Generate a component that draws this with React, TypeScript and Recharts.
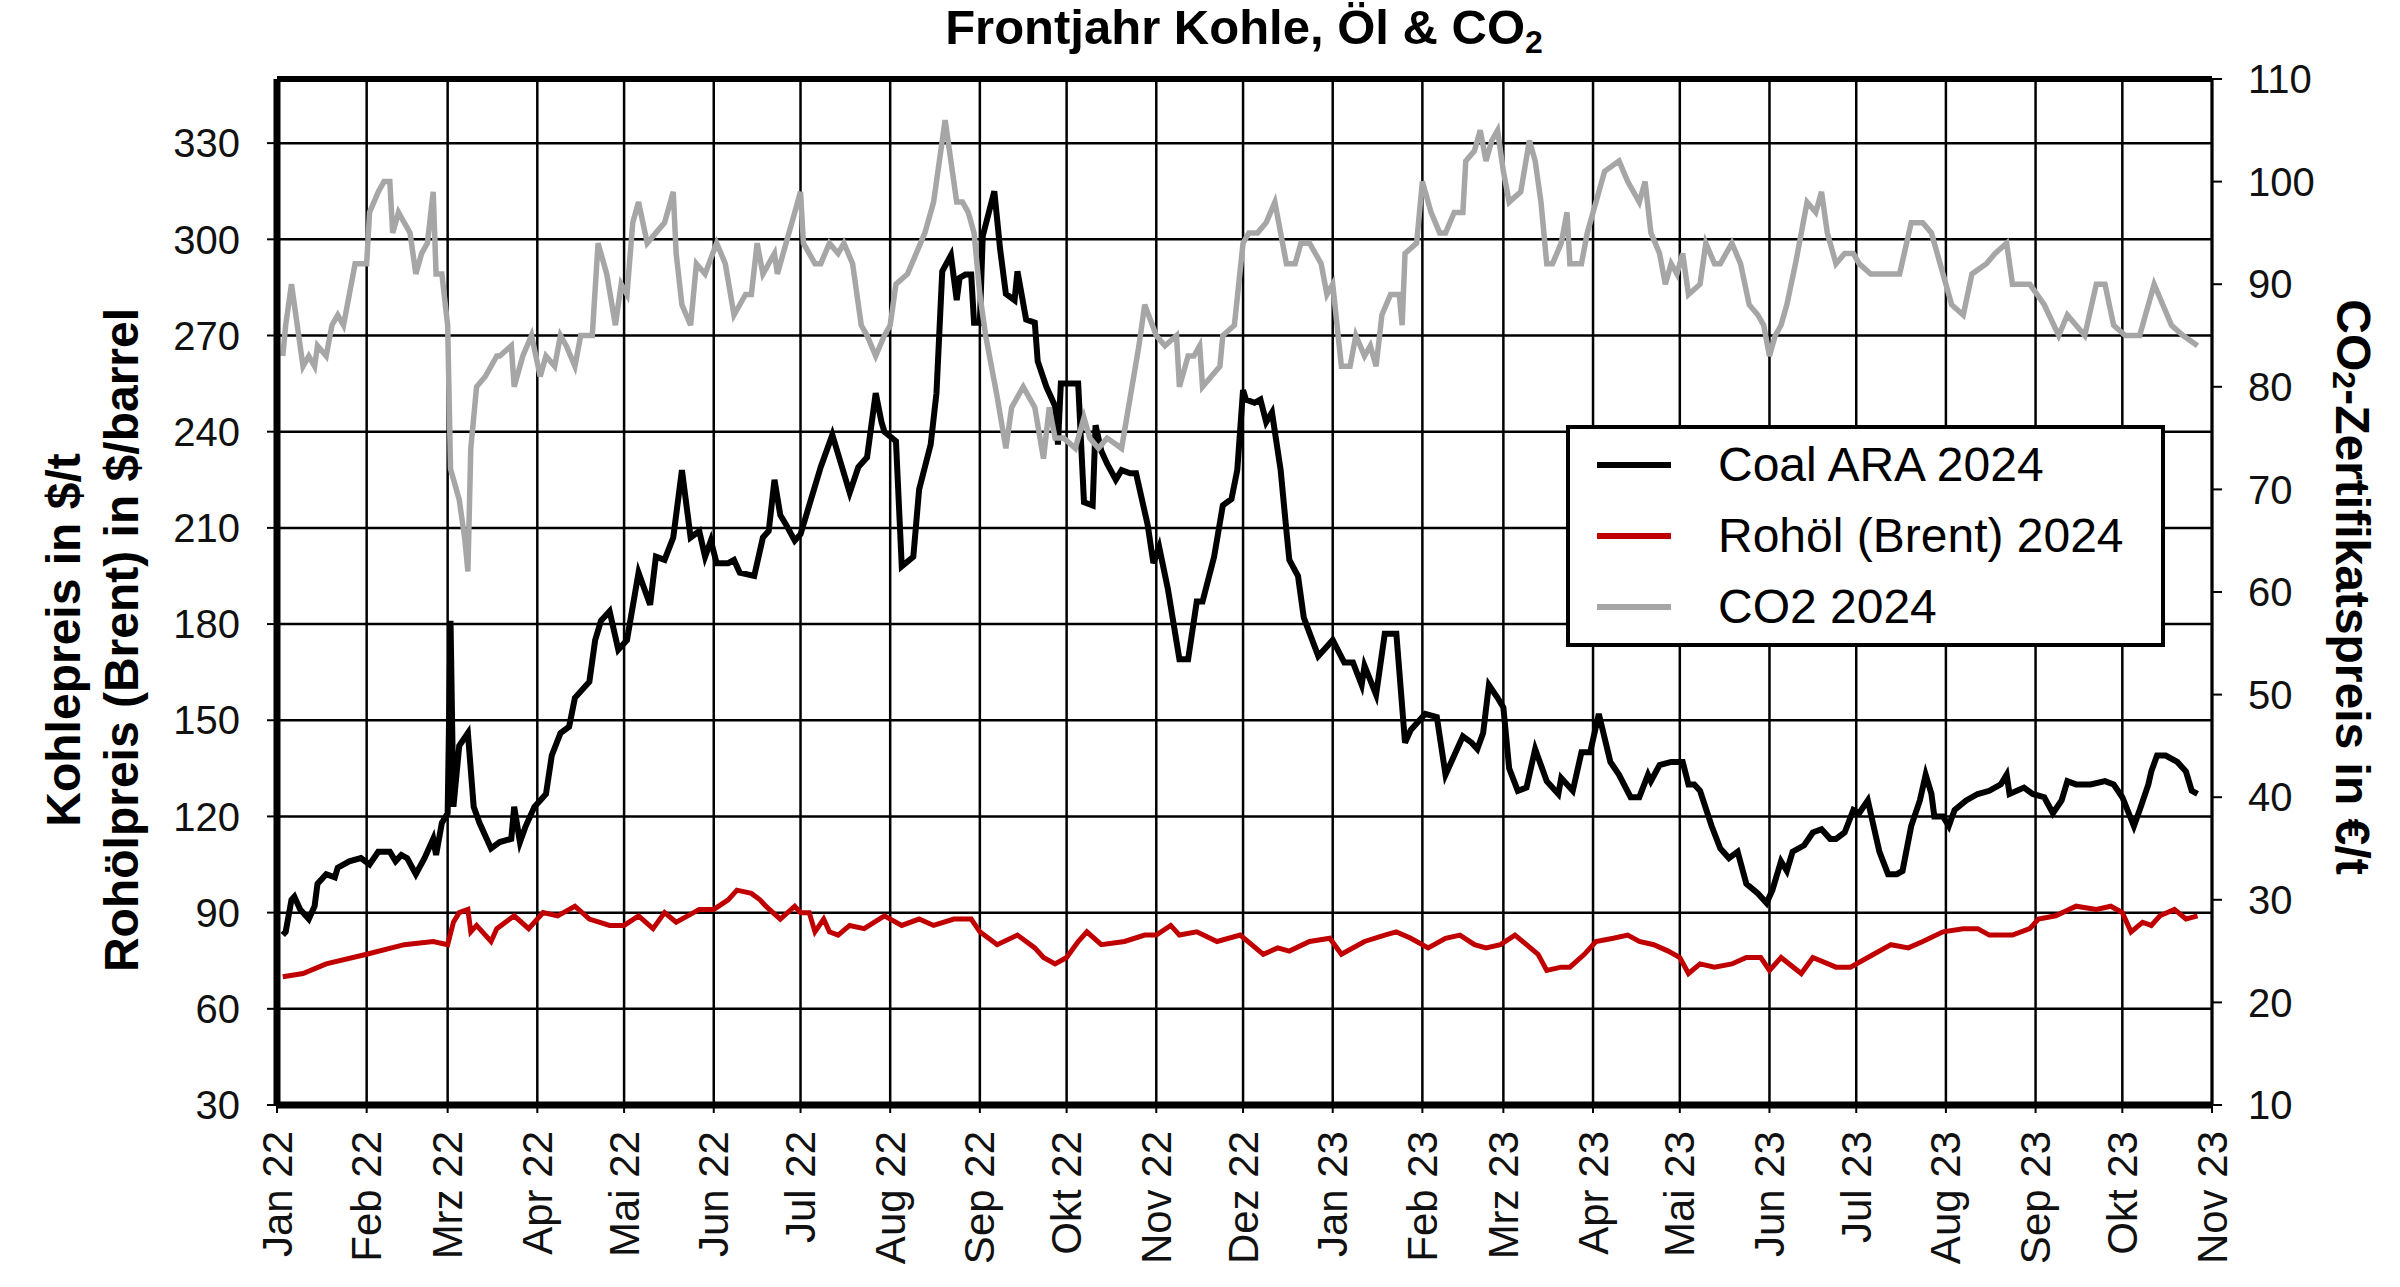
import React from "react";
import {
  CartesianGrid,
  Legend,
  Line,
  LineChart,
  ReferenceLine,
  XAxis,
  YAxis,
} from "recharts";

const FONT = "'Liberation Sans', Arial, sans-serif";

// x axis: days since 1 Jan 2022, ticks at month starts
const monthTicks = [0, 31, 59, 90, 120, 151, 181, 212, 243, 273, 304, 334, 365, 396, 424, 455, 485, 516, 546, 577, 608, 638, 669];
const monthLabels = [
  "Jan 22", "Feb 22", "Mrz 22", "Apr 22", "Mai 22", "Jun 22", "Jul 22", "Aug 22", "Sep 22", "Okt 22", "Nov 22", "Dez 22",
  "Jan 23", "Feb 23", "Mrz 23", "Apr 23", "Mai 23", "Jun 23", "Jul 23", "Aug 23", "Sep 23", "Okt 23", "Nov 23",
];
const leftTicks = [30, 60, 90, 120, 150, 180, 210, 240, 270, 300, 330];
const rightTicks = [10, 20, 30, 40, 50, 60, 70, 80, 90, 100, 110];
const seriesNames = ["Coal ARA 2024", "Rohöl (Brent) 2024", "CO2 2024"];

// Coal ARA 2024 ($/t)
const coalDays = [
  2, 3, 5, 6, 8, 11, 13, 14, 17, 20,
  21, 25, 29, 32, 35, 39, 41, 43, 45, 48,
  51, 54, 55, 57, 59, 60, 61, 63, 66, 68,
  70, 74, 77, 81, 82, 84, 86, 89, 91, 93,
  95, 98, 101, 103, 108, 110, 112, 115, 118, 121,
  125, 129, 131, 134, 137, 140, 143, 146, 148, 150,
  152, 156, 158, 160, 165, 168, 170, 172, 174, 176,
  179, 181, 184, 188, 192, 195, 198, 201, 204, 207,
  209, 210, 214, 216, 220, 222, 226, 228, 230, 233,
  235, 236, 238, 240, 241, 243, 244, 248, 250, 252,
  255, 256, 259, 262, 263, 266, 269, 270, 271, 275,
  277, 279, 282, 283, 285, 287, 290, 292, 295, 297,
  301, 303, 305, 308, 312, 315, 318, 320, 324, 327,
  330, 332, 334, 335, 338, 340, 342, 344, 347, 349,
  350, 353, 355, 360, 362, 365, 369, 372, 375, 376,
  380, 383, 387, 390, 392, 397, 401, 404, 407, 410,
  413, 415, 417, 419, 422, 424, 426, 429, 432, 435,
  439, 443, 444, 448, 451, 454, 457, 461, 464, 468,
  471, 474, 475, 478, 482, 486, 488, 490, 492, 496,
  499, 502, 505, 508, 512, 515, 517, 520, 522, 524,
  528, 531, 534, 537, 539, 542, 545, 547, 550, 552,
  554, 557, 560, 562, 565, 568, 570, 572, 573, 576,
  578, 580, 584, 588, 592, 596, 598, 599, 604, 607,
  611, 614, 617, 619, 622, 627, 632, 635, 638, 642,
  644, 647, 648, 650, 653, 657, 660, 662, 664,
];
const coalValues = [
  83, 84, 94, 95, 91, 88, 92, 99, 102, 101,
  104, 106, 107, 105, 109, 109, 106, 108, 107, 102,
  107, 113, 108, 118, 121, 181, 123, 142, 146, 123,
  118, 110, 112, 113, 123, 112, 117, 123, 125, 127,
  139, 146, 148, 157, 162, 175, 181, 184, 172, 175,
  196, 186, 201, 200, 207, 228, 207, 209, 201, 206,
  199, 199, 200, 196, 195, 207, 209, 225, 214, 211,
  206, 208, 217, 229, 239, 230, 221, 229, 232, 252,
  243, 240, 237, 198, 201, 222, 236, 252, 290, 295,
  281, 288, 289, 289, 274, 274, 301, 315, 297, 283,
  281, 290, 275, 274, 262, 254, 248, 236, 255, 255,
  255, 218, 217, 242, 234, 230, 225, 228, 227, 227,
  211, 199, 204, 191, 169, 169, 187, 187, 201, 217,
  219, 228, 253, 250, 249, 250, 243, 246, 228, 209,
  200, 195, 182, 170, 172, 175, 168, 168, 161, 167,
  158, 177, 177, 143, 147, 152, 151, 133, 139, 145,
  143, 141, 146, 161, 157, 154, 135, 128, 129, 141,
  131, 127, 132, 128, 140, 140, 152, 137, 133, 126,
  126, 133, 131, 136, 137, 137, 130, 130, 128, 117,
  110, 107, 109, 99, 96, 93, 97, 106, 103, 109,
  111, 115, 116, 113, 113, 115, 122, 121, 125, 117,
  109, 102, 102, 103, 117, 125, 133, 127, 120, 120,
  117, 122, 125, 127, 128, 130, 133, 127, 129, 127,
  126, 121, 125, 131, 130, 130, 131, 130, 126, 117,
  122, 130, 134, 139, 139, 137, 134, 128, 127,
];

// Rohöl (Brent) 2024 ($/barrel)
const oilDays = [
  2, 9, 17, 31, 44, 54, 59, 61, 63, 66,
  67, 69, 74, 76, 82, 87, 92, 97, 103, 108,
  115, 120, 125, 130, 134, 138, 142, 146, 151, 156,
  159, 164, 167, 169, 174, 179, 181, 184, 186, 189,
  191, 194, 198, 203, 210, 216, 222, 227, 234, 240,
  243, 249, 256, 262, 265, 269, 273, 277, 280, 285,
  293, 300, 304, 309, 312, 318, 325, 333, 341, 346,
  350, 357, 364, 368, 376, 383, 387, 392, 398, 404,
  409, 414, 418, 423, 428, 432, 436, 439, 444, 447,
  452, 456, 462, 467, 471, 476, 481, 485, 488, 492,
  497, 503, 508, 513, 516, 520, 527, 531, 539, 544,
  550, 558, 564, 569, 576, 583, 588, 592, 600, 606,
  609, 615, 622, 629, 634, 638, 641, 645, 648, 651,
  656, 660, 664,
];
const oilValues = [
  70, 71, 74, 77, 80, 81, 80, 87, 90, 91,
  84, 86, 81, 85, 89, 85, 90, 89, 92, 88,
  86, 86, 89, 85, 90, 87, 89, 91, 91, 94,
  97, 96, 94, 92, 88, 92, 90, 90, 84, 88,
  84, 83, 86, 85, 89, 86, 88, 86, 88, 88,
  84, 80, 83, 79, 76, 74, 76, 81, 84, 80,
  81, 83, 83, 86, 83, 84, 81, 83, 77, 79,
  78, 81, 82, 77, 81, 83, 84, 82, 79, 82,
  83, 80, 79, 80, 83, 80, 77, 72, 73, 73,
  77, 81, 82, 83, 81, 80, 78, 76, 71, 74,
  73, 74, 76, 76, 72, 76, 71, 76, 73, 73,
  76, 80, 79, 81, 84, 85, 85, 83, 83, 85,
  88, 89, 92, 91, 92, 90, 84, 87, 86, 89,
  91, 88, 89,
];

// CO2 2024 (€/t, right axis)
const co2Days = [
  2, 3, 5, 6, 9, 11, 13, 14, 17, 19,
  21, 23, 27, 31, 32, 35, 37, 39, 40, 42,
  46, 48, 50, 52, 54, 55, 57, 59, 60, 63,
  65, 66, 67, 69, 72, 76, 77, 81, 82, 85,
  88, 91, 93, 96, 98, 100, 103, 105, 109, 111,
  114, 117, 119, 121, 123, 125, 128, 131, 134, 137,
  138, 140, 143, 145, 148, 152, 155, 158, 162, 164,
  166, 168, 172, 173, 176, 179, 181, 182, 186, 188,
  191, 194, 196, 199, 202, 204, 207, 210, 212, 214,
  218, 221, 224, 227, 229, 231, 233, 235, 237, 239,
  241, 243, 245, 249, 252, 254, 258, 262, 265, 267,
  269, 272, 276, 279, 281, 284, 287, 292, 295, 298,
  300, 304, 307, 311, 312, 315, 317, 319, 320, 323,
  326, 327, 331, 334, 336, 339, 342, 345, 347, 349,
  352, 354, 357, 361, 363, 365, 368, 371, 373, 376,
  378, 380, 382, 385, 388, 389, 390, 394, 396, 399,
  402, 404, 407, 410, 411, 414, 416, 418, 420, 422,
  424, 426, 430, 433, 435, 437, 439, 441, 444, 446,
  447, 451, 453, 455, 459, 464, 467, 469, 471, 473,
  475, 478, 480, 482, 484, 486, 488, 492, 494, 497,
  499, 503, 506, 509, 512, 514, 516, 518, 520, 522,
  525, 527, 529, 532, 534, 536, 539, 542, 545, 547,
  551, 557, 561, 565, 569, 572, 577, 579, 583, 586,
  591, 594, 598, 600, 606, 611, 616, 619, 625, 629,
  632, 635, 639, 644, 649, 655, 659, 664,
];
const co2Values = [
  83, 86, 90, 88, 82, 83, 82, 84, 83, 86,
  87, 86, 92, 92, 97, 99, 100, 100, 95, 97,
  95, 91, 93, 94, 99, 91, 91, 86, 72, 69,
  65, 62, 74, 80, 81, 83, 83, 84, 80, 83,
  85, 81, 83, 82, 85, 84, 82, 85, 85, 94,
  91, 86, 90, 89, 96, 98, 94, 95, 96, 99,
  93, 88, 86, 92, 91, 94, 92, 87, 89, 89,
  94, 91, 93, 91, 94, 97, 99, 94, 92, 92,
  94, 93, 94, 92, 86, 85, 83, 85, 86, 90,
  91, 93, 95, 98, 102, 106, 102, 98, 98, 97,
  95, 89, 85, 79, 74, 78, 80, 78, 73, 78,
  75, 75, 74, 77, 75, 74, 75, 74, 79, 84,
  88, 85, 84, 85, 80, 83, 83, 84, 80, 81,
  82, 85, 86, 94, 95, 95, 96, 98, 95, 92,
  92, 94, 94, 92, 89, 90, 82, 82, 85, 83,
  84, 82, 87, 89, 89, 86, 93, 94, 100, 97,
  95, 95, 97, 97, 102, 103, 105, 102, 104, 105,
  101, 98, 99, 104, 102, 98, 92, 92, 94, 97,
  92, 92, 95, 97, 101, 102, 100, 99, 98, 100,
  95, 93, 90, 92, 91, 93, 89, 90, 94, 92,
  92, 94, 92, 88, 87, 86, 83, 85, 86, 88,
  92, 95, 98, 97, 99, 95, 92, 93, 93, 92,
  91, 91, 91, 96, 96, 95, 90, 88, 87, 91,
  92, 93, 94, 90, 90, 88, 85, 87, 85, 90,
  90, 86, 85, 85, 90, 86, 85, 84,
];

const coalData = coalDays.map((d, i) => ({ d, v: coalValues[i] }));
const oilData = oilDays.map((d, i) => ({ d, v: oilValues[i] }));
const co2Data = co2Days.map((d, i) => ({ d, v: co2Values[i] }));

const MonthTick = (props: any) => {
  const { x, y, payload } = props;
  const label = monthLabels[monthTicks.indexOf(payload.value)];
  return (
    <text
      x={x}
      y={y}
      transform={`rotate(-90, ${x}, ${y})`}
      textAnchor="end"
      dominantBaseline="central"
      fontSize={42}
      fontFamily={FONT}
      fill="#111"
    >
      {label}
    </text>
  );
};

const LegendBox = (props: any) => {
  const items = [...(props.payload || [])].sort(
    (a: any, b: any) => seriesNames.indexOf(a.value) - seriesNames.indexOf(b.value)
  );
  return (
    <div
      style={{
        boxSizing: "border-box",
        width: 599,
        height: 222,
        border: "4px solid #000",
        background: "#fff",
        fontFamily: FONT,
      }}
    >
      {items.map((entry: any) => (
        <div key={entry.value} style={{ display: "flex", alignItems: "center", height: 71 }}>
          <span
            style={{
              display: "inline-block",
              width: 74,
              height: 6,
              marginLeft: 27,
              marginRight: 47,
              background: entry.color,
            }}
          />
          <span style={{ fontSize: 48, color: "#000", whiteSpace: "nowrap" }}>{entry.value}</span>
        </div>
      ))}
    </div>
  );
};

export default function App() {
  return (
    <div style={{ position: "absolute", left: 0, top: 0, width: 2400, height: 1287, background: "#fff" }}>
      <LineChart width={2400} height={1287} margin={{ top: 79, right: 88, left: 177, bottom: 0 }}>
        <CartesianGrid yAxisId="left" stroke="#000" strokeWidth={2.5} />
        <XAxis
          dataKey="d"
          type="number"
          domain={[0, 669]}
          ticks={monthTicks}
          interval={0}
          height={182}
          tickSize={8}
          tickMargin={18}
          tick={<MonthTick />}
          axisLine={{ stroke: "#000", strokeWidth: 7 }}
          tickLine={{ stroke: "#000", strokeWidth: 2 }}
        />
        <YAxis
          yAxisId="left"
          orientation="left"
          domain={[30, 350]}
          ticks={leftTicks}
          interval={0}
          width={100}
          tickSize={10}
          tickMargin={27}
          tick={{ fontSize: 40, fill: "#111", fontFamily: FONT }}
          axisLine={{ stroke: "#000", strokeWidth: 7 }}
          tickLine={{ stroke: "#000", strokeWidth: 2 }}
        />
        <YAxis
          yAxisId="right"
          orientation="right"
          domain={[10, 110]}
          ticks={rightTicks}
          interval={0}
          width={100}
          tickSize={10}
          tickMargin={26}
          tick={{ fontSize: 40, fill: "#111", fontFamily: FONT, textAnchor: "start" }}
          axisLine={{ stroke: "#000", strokeWidth: 3 }}
          tickLine={{ stroke: "#000", strokeWidth: 2 }}
        />
        <ReferenceLine yAxisId="left" y={350} stroke="#000" strokeWidth={6} />
        <Line
          yAxisId="left"
          data={coalData}
          dataKey="v"
          name={seriesNames[0]}
          type="linear"
          stroke="#000000"
          strokeWidth={6}
          dot={false}
          isAnimationActive={false}
        />
        <Line
          yAxisId="left"
          data={oilData}
          dataKey="v"
          name={seriesNames[1]}
          type="linear"
          stroke="#c00000"
          strokeWidth={5}
          dot={false}
          isAnimationActive={false}
        />
        <Line
          yAxisId="right"
          data={co2Data}
          dataKey="v"
          name={seriesNames[2]}
          type="linear"
          stroke="#a6a6a6"
          strokeWidth={5.5}
          dot={false}
          isAnimationActive={false}
        />
        <Legend
          layout="vertical"
          align="center"
          verticalAlign="middle"
          content={<LegendBox />}
          wrapperStyle={{ left: 1566, top: 425, width: 599, height: 222 }}
        />
      </LineChart>
      <svg
        width={2400}
        height={1287}
        style={{ position: "absolute", left: 0, top: 0, pointerEvents: "none" }}
        fontFamily={FONT}
      >
        <text x={1244} y={44} textAnchor="middle" fontSize={49} fontWeight="bold" fill="#000">
          Frontjahr Kohle, Öl &amp; CO<tspan fontSize={32} dy={9}>2</tspan>
        </text>
        <text
          x={63}
          y={640}
          transform="rotate(-90, 63, 640)"
          textAnchor="middle"
          dominantBaseline="central"
          fontSize={48}
          fontWeight="bold"
          fill="#000"
        >
          Kohlepreis in $/t
        </text>
        <text
          x={121}
          y={640}
          transform="rotate(-90, 121, 640)"
          textAnchor="middle"
          dominantBaseline="central"
          fontSize={48}
          fontWeight="bold"
          fill="#000"
        >
          Rohölpreis (Brent) in $/barrel
        </text>
        <text
          x={2353}
          y={587}
          transform="rotate(90, 2353, 587)"
          textAnchor="middle"
          dominantBaseline="central"
          fontSize={48}
          fontWeight="bold"
          fill="#000"
        >
          CO<tspan fontSize={32} dy={9}>2</tspan>
          <tspan dy={-9}>-Zertifikatspreis in €/t</tspan>
        </text>
      </svg>
    </div>
  );
}
